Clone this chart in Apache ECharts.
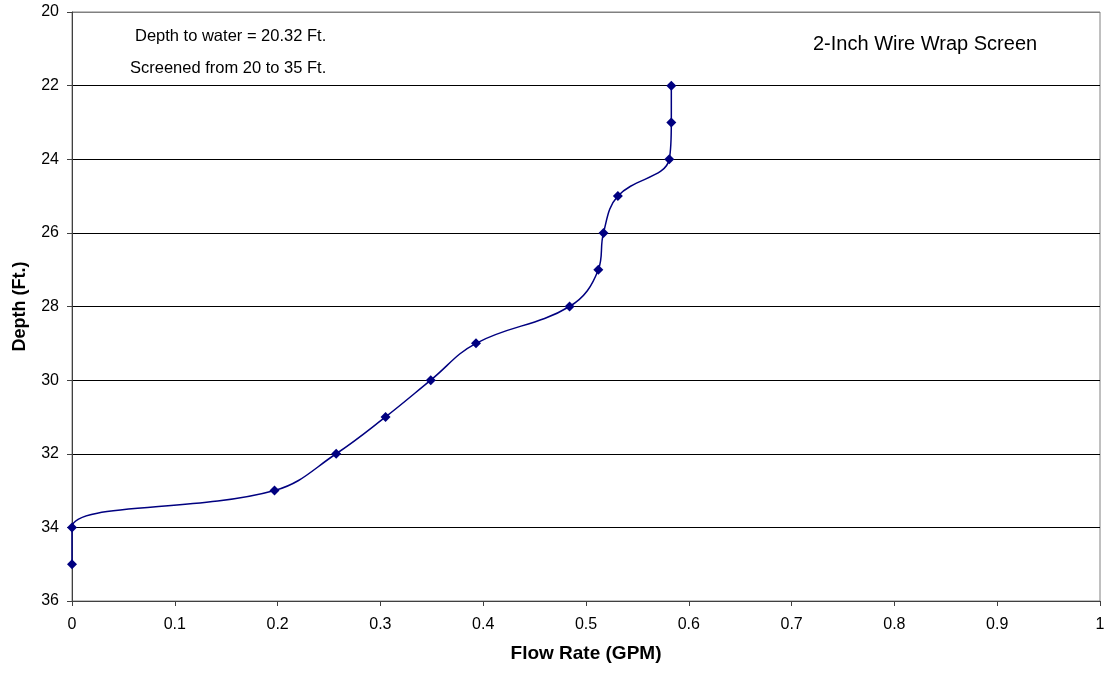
<!DOCTYPE html>
<html>
<head>
<meta charset="utf-8">
<script src="https://cdn.jsdelivr.net/npm/echarts@6/dist/echarts.min.js"></script>
<style>
  html, body { margin: 0; padding: 0; background: #fff; }
  #chart { width: 1110px; height: 675px; }
</style>
</head>
<body>
<div id="chart"></div>
<script>
// Flow-meter profile: flow rate at each depth in the well
const depths = [22, 23, 24, 25, 26, 27, 28, 29, 30, 31, 32, 33, 34, 35];
const flowRates = [0.583, 0.583, 0.581, 0.531, 0.517, 0.512, 0.484, 0.393, 0.349, 0.305, 0.257, 0.197, 0, 0];
const depthTicks = [20, 22, 24, 26, 28, 30, 32, 34, 36];
const notes = ['Depth to water = 20.32 Ft.', 'Screened from 20 to 35 Ft.'];
const screenLabel = '2-Inch Wire Wrap Screen';

const points = depths.map((d, i) => [flowRates[i], d]);
const FONT = '"Liberation Sans", Arial, sans-serif';

const chart = echarts.init(document.getElementById('chart'));
chart.setOption({
  animation: false,
  backgroundColor: '#fff',
  grid: {
    left: 72, right: 10, top: 12, bottom: 74,
    show: true, borderColor: '#808080', borderWidth: 1
  },
  xAxis: {
    type: 'value', min: 0, max: 1, interval: 0.1,
    name: 'Flow Rate (GPM)', nameLocation: 'middle', nameGap: 43,
    nameTextStyle: { fontFamily: FONT, fontSize: 19, fontWeight: 'bold', color: '#000' },
    axisLine: { show: true, lineStyle: { color: '#404040', width: 1 } },
    axisTick: { show: true, length: 5, lineStyle: { color: '#404040' } },
    axisLabel: { fontFamily: FONT, fontSize: 16, color: '#000', margin: 16,
      formatter: v => String(+v.toFixed(1)) },
    splitLine: { show: false }
  },
  yAxis: {
    type: 'value', inverse: true, min: depthTicks[0], max: depthTicks[depthTicks.length - 1], interval: 2,
    name: 'Depth (Ft.)', nameLocation: 'middle', nameGap: 43, nameRotate: 90,
    nameTextStyle: { fontFamily: FONT, fontSize: 18, fontWeight: 'bold', color: '#000' },
    axisLine: { show: true, lineStyle: { color: '#404040', width: 1 } },
    axisTick: { show: true, length: 5, lineStyle: { color: '#404040' } },
    axisLabel: { fontFamily: FONT, fontSize: 16, color: '#000', margin: 13 },
    splitLine: { show: true, lineStyle: {
      color: ['#808080', '#000', '#000', '#000', '#000', '#000', '#000', '#000', '#404040'], width: 1 } }
  },
  series: [{
    type: 'line',
    data: points,
    smooth: 0.4,
    smoothConstraint: false,
    clip: false,
    symbol: 'diamond',
    symbolSize: 10,
    showAllSymbol: true,
    itemStyle: { color: '#000080' },
    lineStyle: { color: '#000080', width: 1.5 }
  }],
  graphic: [
    { type: 'text', left: 135, top: 28,
      style: { text: notes[0], font: '16.5px ' + FONT, fill: '#000' } },
    { type: 'text', left: 130, top: 60,
      style: { text: notes[1], font: '16.5px ' + FONT, fill: '#000' } },
    { type: 'text', left: 813, top: 34,
      style: { text: screenLabel, font: '20px ' + FONT, fill: '#000' } }
  ]
});
</script>
</body>
</html>
